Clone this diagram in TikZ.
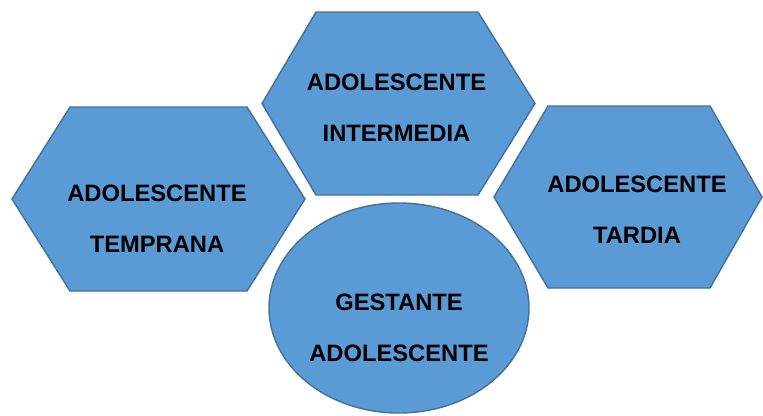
\documentclass[tikz,border=0pt]{standalone}
\usepackage{fontspec}
\setmainfont{Liberation Sans}
\usetikzlibrary{positioning}

\definecolor{cellblue}{RGB}{91,155,213}
\definecolor{celledge}{RGB}{65,113,156}
\tikzset{
    cell/.style={fill=cellblue, draw=celledge, line width=0.8pt, line join=miter},
    stage/.style={text=black, align=center, inner sep=0pt, font=\fontsize{13.5}{29}\selectfont\bfseries}
}

\begin{document}
\begin{tikzpicture}
\useasboundingbox (0,0) rectangle (15.26,8.30);

\draw[cell] (0.24,4.32) -- (1.40,6.16) -- (4.94,6.16) -- (6.10,4.32) -- (4.94,2.48) -- (1.40,2.48) -- cycle;
\node[stage] (temprana) at (3.14, 3.93) {ADOLESCENTE\\TEMPRANA};

\draw[cell] (5.24,6.23) -- (6.32,8.06) -- (9.56,8.06) -- (10.70,6.23) -- (9.56,4.40) -- (6.32,4.40) -- cycle;
\node[stage] (intermedia) at (7.93, 6.15) {ADOLESCENTE\\INTERMEDIA};

\draw[cell] (9.88,4.36) -- (10.96,6.18) -- (14.20,6.18) -- (15.24,4.36) -- (14.20,2.54) -- (10.96,2.54) -- cycle;
\node[stage] (tardia) at (12.74, 4.11) {ADOLESCENTE\\TARDIA};

\draw[cell] (7.98,2.14) ellipse [x radius=2.6, y radius=2.1];
\node[stage] (gestante) at (7.98, 1.75) {GESTANTE\\ADOLESCENTE};

\end{tikzpicture}
\end{document}
